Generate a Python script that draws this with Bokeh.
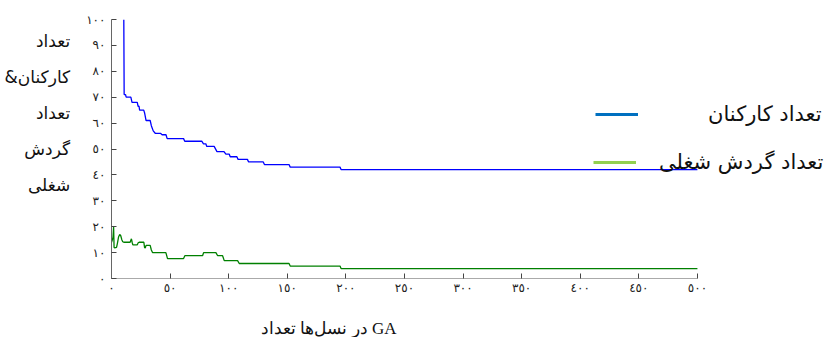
from bokeh.plotting import figure
from bokeh.models import Legend, LegendItem, FixedTicker, Range1d, Title
from bokeh.embed import file_html
from bokeh.resources import INLINE

# ---- data ----
gen_workers = [10.5, 10.8, 12, 12.5, 16.5, 17.5, 22, 22.7, 23.5, 24, 27.5, 28.2, 29.5, 33, 34, 35.6, 37.5, 42,
               43.2, 46.5, 47.5, 61.5, 62.5, 77, 78.5, 80.5, 81.3, 87.6, 90, 96, 97.6, 100.5, 101.3, 107, 108,
               116, 117, 129.5, 130.5, 151.5, 152.5, 195, 196, 500]
workers = [100, 71, 71, 70, 70, 68, 68, 66.5, 66.5, 65, 65, 64, 61, 61, 59, 57, 56, 56,
           55.5, 55.5, 54, 54, 53, 53, 52, 52, 51, 51, 49, 49, 48, 48, 47, 47, 46,
           46, 45, 45, 44, 44, 43, 43, 42, 42]

gen_turnover = [0, 0.8, 1.3, 1.8, 2.2, 2.6, 4.3, 5.0, 6.0, 7.0, 7.9, 8.8, 9.6, 10.5, 15.9, 16.5, 17.0, 17.6,
                18.2, 22.0, 22.8, 23.6, 27.6, 28.2, 28.8, 29.5, 33.0, 34.0, 35.0, 46.4, 47.8, 61.5, 62.6,
                77.7, 78.6, 89.1, 90.6, 94.8, 96.2, 107.6, 109.0, 151.5, 152.5, 195.0, 196.0, 500.0]
turnover = [14, 15, 16, 20, 12, 11.8, 12, 13.5, 16, 17, 16.5, 15, 14.2, 14, 14, 14.8, 15.3, 14,
            13, 13, 13.8, 14, 14, 12, 11.8, 12.8, 12.8, 11, 10, 10, 7.7, 7.7, 8.8,
            8.8, 10, 10, 8.8, 8.8, 6.9, 6.9, 5.8, 5.8, 4.8, 4.8, 3.8, 3.8]

x_ticks = [0, 50, 100, 150, 200, 250, 300, 350, 400, 450, 500]
x_tick_labels = ["٠", "٥٠", "١٠٠", "١٥٠", "٢٠٠", "٢٥٠", "٣٠٠", "٣٥٠", "٤٠٠", "٤٥٠", "٥٠٠"]
y_ticks = [0, 10, 20, 30, 40, 50, 60, 70, 80, 90, 100]
y_tick_labels = ["٠", "١٠", "٢٠", "٣٠", "٤٠", "٥٠", "٦٠", "٧٠", "٨٠", "٩٠", "١٠٠"]

series_names = ["تعداد کارکنان", "تعداد گردش شغلی"]
x_title_words = ["تعداد", "نسل\u200cها", "در", "GA"]
y_title_lines = ["تعداد", "\u202bکارکنان&\u202c", "تعداد", "گردش", "شغلی"]

LRE, PDF, LRM, NBSP = "\u202a", "\u202c", "\u200e", "\u00a0"
x_title = LRE + (LRM + " " + LRM).join(x_title_words) + PDF

# ---- figure ----
p = figure(width=827, height=337, x_range=Range1d(0, 611), y_range=Range1d(0, 100),
           output_backend="svg", toolbar_location=None,
           min_border_left=111, min_border_right=0, min_border_top=19, min_border_bottom=58)
p.outline_line_color = None
p.grid.visible = False
p.background_fill_color = "white"
p.border_fill_color = "white"

p.line(gen_workers, workers, color="#0000ff", line_width=1.3)
p.line(gen_turnover, turnover, color="#008000", line_width=1.3)

# axes
p.xaxis.bounds = (x_ticks[0], x_ticks[-1])
p.xaxis.ticker = FixedTicker(ticks=x_ticks)
p.xaxis.major_label_overrides = dict(zip(x_ticks, x_tick_labels))
p.yaxis.ticker = FixedTicker(ticks=y_ticks)
p.yaxis.major_label_overrides = dict(zip(y_ticks, y_tick_labels))
for ax in (p.xaxis, p.yaxis):
    ax.major_tick_in = 5
    ax.major_tick_out = 0
    ax.minor_tick_line_color = None
    ax.major_tick_line_color = "#444444"
    ax.major_label_text_font = "DejaVu Sans"
    ax.major_label_text_font_size = "12px"
    ax.major_label_text_color = "#222222"
p.yaxis.axis_line_color = "#666666"
p.xaxis.axis_line_color = "#aaaaaa"
p.yaxis.major_label_standoff = 6
p.xaxis.major_label_standoff = 2

# multi-line horizontal y title; the padding lines lift the block to where the reference has it
p.yaxis.axis_label = "\n".join(y_title_lines + [NBSP, NBSP])
p.yaxis.axis_label_orientation = "horizontal"
p.yaxis.axis_label_text_align = "center"
p.yaxis.axis_label_text_font = "DejaVu Sans"
p.yaxis.axis_label_text_font_style = "normal"
p.yaxis.axis_label_text_font_size = "17px"
p.yaxis.axis_label_text_line_height = 1.8
p.yaxis.axis_label_text_color = "#111111"
p.yaxis.axis_label_standoff = 13

# x title (second line of the block), right edge under the 250-300 region as in the reference
p.add_layout(Title(text=NBSP + "\n" + x_title, align="right", offset=431, vertical_align="bottom",
                   standoff=0, text_font="Liberation Serif", text_font_style="normal",
                   text_font_size="17px", text_line_height=1.0, text_color="#111111"), "below")

# legend (separate glyph colors as in reference)
nan = float("nan")
r1 = p.line([0, 1], [nan, nan], color="#0070C0", line_width=3)
r2 = p.line([0, 1], [nan, nan], color="#92D050", line_width=3)
common = dict(padding=0, margin=0, glyph_width=43, glyph_height=20, label_height=20,
              border_line_color=None, background_fill_alpha=0,
              label_text_font="DejaVu Sans", label_text_font_size="21px", label_text_color="#111111")
leg1 = Legend(items=[LegendItem(label=series_names[0], renderers=[r1])], location=(484, 152),
              label_standoff=70, **common)
leg2 = Legend(items=[LegendItem(label=series_names[1], renderers=[r2])], location=(482, 104),
              label_standoff=23, **common)
p.add_layout(leg1)
p.add_layout(leg2)

open("out.html", "w").write(file_html(p, INLINE))
